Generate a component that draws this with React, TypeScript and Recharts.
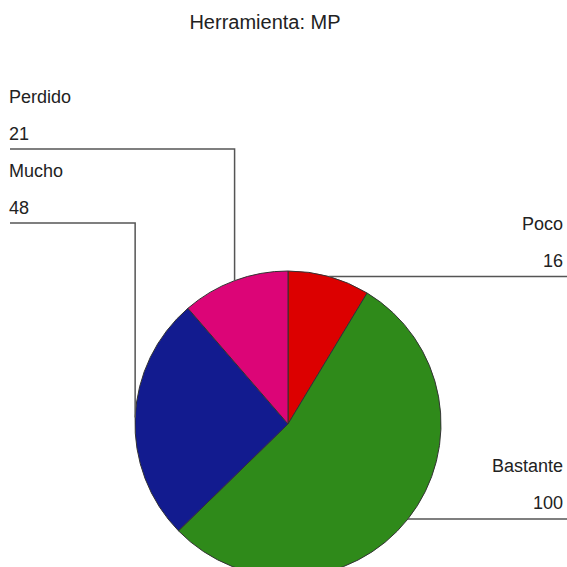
import React from 'react';
import { PieChart, Pie, Cell } from 'recharts';

const title = 'Herramienta: MP';
const categories = ['Poco', 'Bastante', 'Mucho', 'Perdido'];
const values = [16, 100, 48, 21];
const colors = ['#dc0000', '#2f8a1a', '#121b8f', '#dc0577'];

const data = categories.map((name, i) => ({ name, value: values[i] }));

const RAD = Math.PI / 180;
const FONT = 'Liberation Sans, Arial, sans-serif';
const W = 567;
const H = 567;
// elbow heights for left-side labels (layout)
const leftLevels: Record<number, number> = { 3: 149, 2: 223 };

const renderLabel = (props: any) => {
  const { cx, cy, midAngle, outerRadius, index, name, value } = props;
  const px = cx + outerRadius * Math.cos(-midAngle * RAD);
  const py = cy + outerRadius * Math.sin(-midAngle * RAD);
  const isRight = px > cx;
  const stroke = '#555';
  if (isRight) {
    const ly = py;
    return (
      <g>
        <polyline points={`${px},${ly} ${W},${ly}`} fill="none" stroke={stroke} strokeWidth={1.5} />
        <text x={563} y={ly - 47} textAnchor="end" fontSize={18} fontFamily={FONT} fill="#222">{name}</text>
        <text x={563} y={ly - 10} textAnchor="end" fontSize={18} fontFamily={FONT} fill="#222">{value}</text>
      </g>
    );
  }
  const ly = leftLevels[index] ?? py;
  return (
    <g>
      <polyline points={`${px},${py} ${px},${ly} ${10},${ly}`} fill="none" stroke={stroke} strokeWidth={1.5} />
      <text x={9} y={ly - 46} textAnchor="start" fontSize={18} fontFamily={FONT} fill="#222">{name}</text>
      <text x={9} y={ly - 9} textAnchor="start" fontSize={18} fontFamily={FONT} fill="#222">{value}</text>
    </g>
  );
};

export default function App() {
  return (
    <div style={{ position: 'absolute', left: 0, top: 0, width: W, height: H, background: '#fff' }}>
      <PieChart width={W} height={H} margin={{ top: 0, right: 0, bottom: 0, left: 0 }}>
        <text x={265} y={29} textAnchor="middle" fontSize={20} fontFamily={FONT} fill="#222">{title}</text>
        <Pie
          data={data}
          dataKey="value"
          nameKey="name"
          cx={288}
          cy={424}
          outerRadius={153}
          startAngle={90}
          endAngle={-270}
          stroke="#333"
          strokeWidth={1}
          label={renderLabel}
          labelLine={false}
          isAnimationActive={false}
        >
          {data.map((d, i) => (
            <Cell key={d.name} fill={colors[i]} />
          ))}
        </Pie>
      </PieChart>
    </div>
  );
}
